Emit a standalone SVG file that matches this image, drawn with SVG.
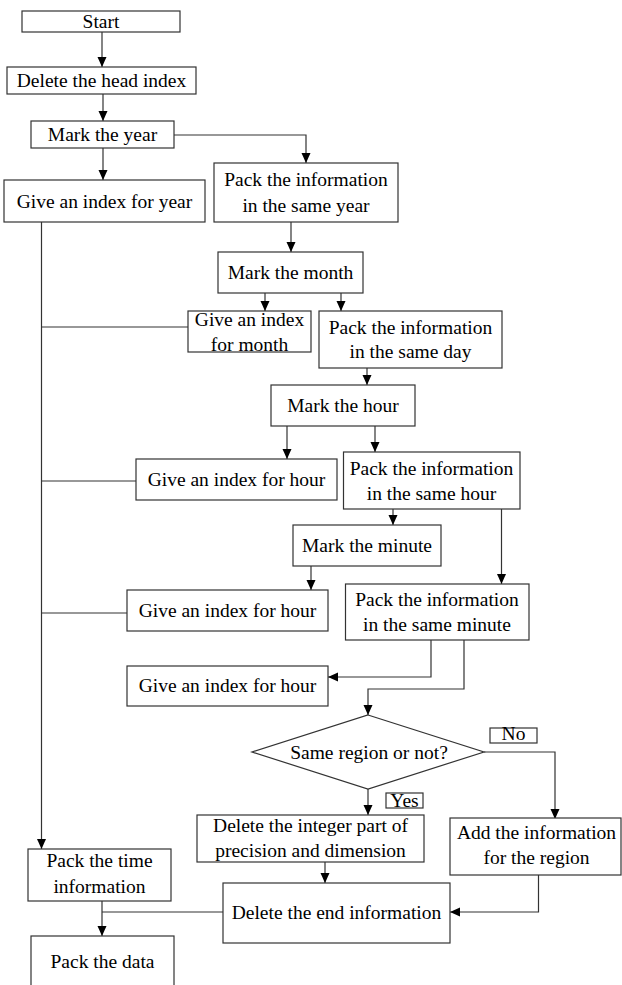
<svg xmlns="http://www.w3.org/2000/svg" width="622" height="985" viewBox="0 0 622 985">
<defs>
<marker id="ah" markerUnits="userSpaceOnUse" markerWidth="10" markerHeight="10" refX="10" refY="4.5" orient="auto">
<path d="M0,0 L10,4.5 L0,9 Z" fill="#000"/>
</marker>
<style>
rect,polygon{fill:#fff;stroke:#333;stroke-width:1.2}
.c path{fill:none;stroke:#333;stroke-width:1.2}
.a{marker-end:url(#ah)}
text{font-family:"Liberation Serif","Times New Roman",serif;font-size:19.5px;fill:#000;text-anchor:middle}
</style>
</defs>
<rect width="622" height="985" style="fill:#fff;stroke:none"/>
<g class="c">
<path class="a" d="M102,32 V67"/>
<path class="a" d="M103,94 V121"/>
<path class="a" d="M103,148 V180"/>
<path class="a" d="M174,135 H306 V163"/>
<path class="a" d="M291,222 V252"/>
<path class="a" d="M265,293 V311"/>
<path class="a" d="M341,293 V311"/>
<path class="a" d="M367,368 V385"/>
<path class="a" d="M287,426 V459"/>
<path class="a" d="M375,426 V452"/>
<path class="a" d="M393,509 V525"/>
<path class="a" d="M501.5,509 V584"/>
<path class="a" d="M311,566 V590"/>
<path class="a" d="M431,640 V677 H328"/>
<path class="a" d="M464,640 V689 H368 V715"/>
<path class="a" d="M484,752 H555 V819"/>
<path class="a" d="M368,789 V815"/>
<path class="a" d="M325,862 V883"/>
<path class="a" d="M538.5,875 V912 H450"/>
<path class="a" d="M41.5,222 V849"/>
<path d="M41.5,327 H188"/>
<path d="M41.5,481 H136"/>
<path d="M41.5,613 H127"/>
<path d="M223,912 H102"/>
<path class="a" d="M102,901 V936"/>
</g>
<g id="start"><rect x="22" y="11" width="158" height="21"/><text x="101" y="28">Start</text></g>
<g id="delete-head"><rect x="7" y="67" width="189" height="27"/><text x="101.5" y="87">Delete the head index</text></g>
<g id="mark-year"><rect x="31" y="121" width="143" height="27"/><text x="102.5" y="141">Mark the year</text></g>
<g id="index-year"><rect x="4" y="180" width="201" height="42"/><text x="104.5" y="207.5">Give an index for year</text></g>
<g id="pack-year"><rect x="214" y="163" width="184" height="59"/><text x="306" y="186">Pack the information</text><text x="306" y="212">in the same year</text></g>
<g id="mark-month"><rect x="218" y="252" width="145" height="41"/><text x="290.5" y="279">Mark the month</text></g>
<g id="index-month"><rect x="188" y="311" width="123" height="41"/><text x="249.5" y="326">Give an index</text><text x="249.5" y="350.5">for month</text></g>
<g id="pack-day"><rect x="319" y="311" width="183" height="57"/><text x="410.5" y="334">Pack the information</text><text x="410.5" y="358">in the same day</text></g>
<g id="mark-hour"><rect x="271" y="385" width="144" height="41"/><text x="343" y="411.5">Mark the hour</text></g>
<g id="index-hour-1"><rect x="136" y="459" width="201" height="41"/><text x="236.5" y="486">Give an index for hour</text></g>
<g id="pack-hour"><rect x="343.5" y="452" width="176.5" height="57"/><text x="431.5" y="475">Pack the information</text><text x="431.5" y="500">in the same hour</text></g>
<g id="mark-minute"><rect x="293" y="525" width="148" height="41"/><text x="367" y="551.5">Mark the minute</text></g>
<g id="index-hour-2"><rect x="127" y="590" width="201" height="41"/><text x="227.5" y="616.5">Give an index for hour</text></g>
<g id="pack-minute"><rect x="345.5" y="584" width="183.5" height="56"/><text x="437" y="605.5">Pack the information</text><text x="437" y="630.5">in the same minute</text></g>
<g id="index-hour-3"><rect x="127" y="666" width="201" height="40"/><text x="227.5" y="691.5">Give an index for hour</text></g>
<g id="decision"><polygon points="368,715 484,752 368,789 252,752"/><text x="369" y="759">Same region or not?</text></g>
<g id="label-no"><rect x="490" y="728" width="47" height="15"/><text x="513.5" y="740">No</text></g>
<g id="label-yes"><rect x="386" y="793" width="37" height="15"/><text x="404.5" y="806.5">Yes</text></g>
<g id="delete-integer"><rect x="197" y="815" width="227" height="47"/><text x="310.5" y="831.5">Delete the integer part of</text><text x="310.5" y="856.5">precision and dimension</text></g>
<g id="add-region"><rect x="450" y="818" width="171" height="57"/><text x="536.5" y="839">Add the information</text><text x="536.5" y="864">for the region</text></g>
<g id="pack-time"><rect x="28" y="849" width="143" height="52"/><text x="99.5" y="866.5">Pack the time</text><text x="99.5" y="892.5">information</text></g>
<g id="delete-end"><rect x="223" y="883" width="227" height="60"/><text x="336.5" y="919">Delete the end information</text></g>
<g id="pack-data"><rect x="31" y="936" width="143" height="60"/><text x="102.5" y="968">Pack the data</text></g>
</svg>
